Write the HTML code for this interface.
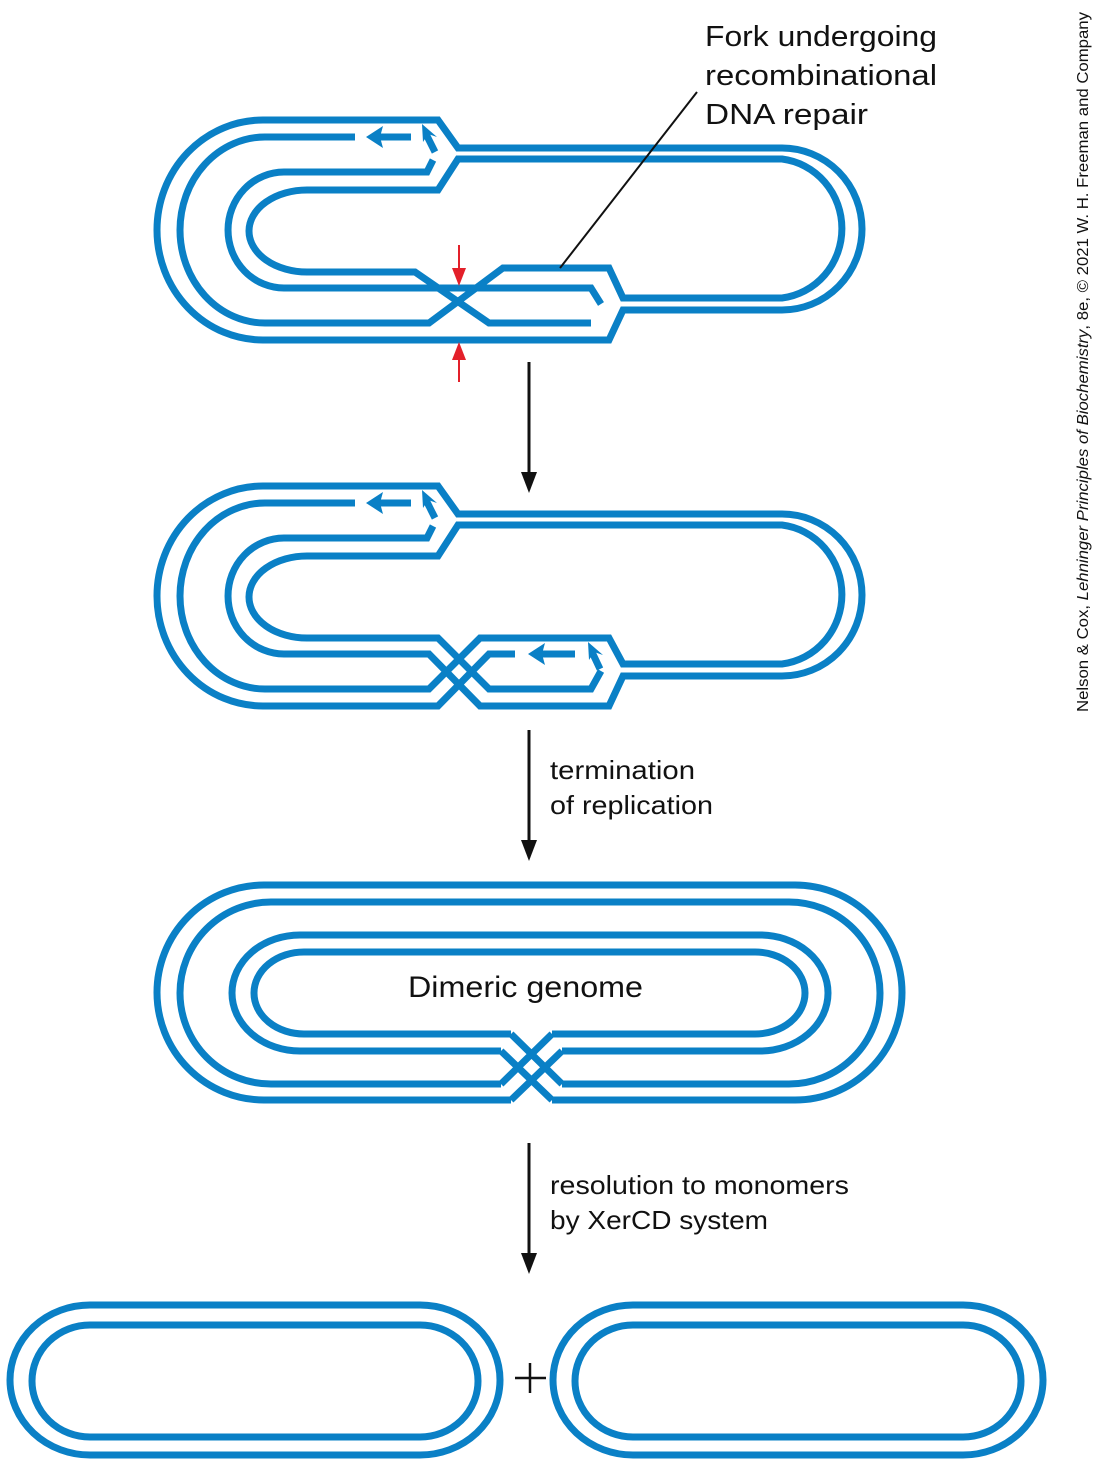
<!DOCTYPE html>
<html><head><meta charset="utf-8"><style>
html,body{margin:0;padding:0;background:#fff;}
svg{display:block;}
text{font-family:"Liberation Sans",sans-serif;fill:#111;}
.s{fill:none;stroke:#0a80c6;stroke-width:7;stroke-linejoin:miter;}
.b{fill:#0a80c6;}
</style></head><body>
<svg width="1094" height="1469" viewBox="0 0 1094 1469">
<g>
<path class="s" d="M263,120 L438,120 L458,148 L782,148 A80,81 0 0 1 782,310 L623,310 L609,340 L263,340 A106,110 0 0 1 263,120 Z"/>
<path class="s" d="M355,137 L265,137 A85,93 0 0 0 265,323 L429,323 L503,268 L609,268 L623,298 L782,298 A68,70 0 0 0 782,159 L458,159 L438,190 L307,190 A58,41 0 0 0 307,272 L415,272 L489,323 L591,323"/>
<path class="s" d="M433,160 L427,172 L284,172 A56,58 0 0 0 284,288 L591,288 L601,304"/>
<line class="s" x1="411" y1="137" x2="378" y2="137"/>
<polygon class="b" points="366,137 383,126 380,137 383,148"/>
<line class="s" x1="435" y1="152" x2="426" y2="134"/>
<polygon class="b" points="422,124 437,137 428,134 423,142"/>
<line x1="459" y1="245" x2="459" y2="270" stroke="#e3202a" stroke-width="2"/>
<polygon points="452,268 466,268 459,286" fill="#e3202a"/>
<line x1="459" y1="382" x2="459" y2="358" stroke="#e3202a" stroke-width="2"/>
<polygon points="452,360 466,360 459,342" fill="#e3202a"/>
<line x1="560" y1="268" x2="697" y2="92" stroke="#111" stroke-width="2"/>
</g>
<text x="705" y="46" font-size="29" textLength="232" lengthAdjust="spacingAndGlyphs">Fork undergoing</text>
<text x="705" y="85" font-size="29" textLength="232" lengthAdjust="spacingAndGlyphs">recombinational</text>
<text x="705" y="124" font-size="29" textLength="163" lengthAdjust="spacingAndGlyphs">DNA repair</text>
<g>
<line x1="529" y1="362" x2="529" y2="478" stroke="#111" stroke-width="3"/>
<polygon points="521,472 537,472 529,493" fill="#111"/>
</g>
<g transform="translate(0,366)">
<path class="s" d="M515,288 L489,288 L438,340 L263,340 A106,110 0 0 1 263,120 L438,120 L458,148 L782,148 A80,81 0 0 1 782,310 L623,310 L609,340 L480,340 L429,288 L284,288 A56,58 0 0 1 284,172 L427,172 L433,160"/>
<path class="s" d="M355,137 L265,137 A85,93 0 0 0 265,323 L429,323 L480,272 L609,272 L623,298 L782,298 A68,70 0 0 0 782,159 L458,159 L438,190 L307,190 A58,41 0 0 0 307,272 L438,272 L489,323 L591,323 L601,305"/>
<line class="s" x1="411" y1="137" x2="378" y2="137"/>
<polygon class="b" points="366,137 383,126 380,137 383,148"/>
<line class="s" x1="435" y1="152" x2="426" y2="134"/>
<polygon class="b" points="422,124 437,137 428,134 423,142"/>
<line class="s" x1="575" y1="288" x2="540" y2="288"/>
<polygon class="b" points="528,288 545,277 542,288 545,299"/>
<line class="s" x1="600" y1="303" x2="592" y2="286"/>
<polygon class="b" points="588,276 603,289 594,286 589,294"/>
</g>
<g>
<line x1="529" y1="730" x2="529" y2="845" stroke="#111" stroke-width="3"/>
<polygon points="521,840 537,840 529,861" fill="#111"/>
</g>
<text x="550" y="779" font-size="26" textLength="145" lengthAdjust="spacingAndGlyphs">termination</text>
<text x="550" y="814" font-size="26" textLength="163" lengthAdjust="spacingAndGlyphs">of replication</text>
<g>
<path class="s" d="M511,1100 L264,1100 A107,107.5 0 0 1 264,885 L795,885 A107,107.5 0 0 1 795,1100 L552,1100"/>
<path class="s" d="M501,1084 L271,1084 A91,91 0 0 1 271,902 L789,902 A91,91 0 0 1 789,1084 L562,1084"/>
<path class="s" d="M501,1051 L300,1051 A68,58 0 0 1 300,935 L760,935 A68,58 0 0 1 760,1051 L562,1051"/>
<path class="s" d="M511,1034 L304,1034 A50,41 0 0 1 304,952 L755,952 A50,41 0 0 1 755,1034 L552,1034"/>
<path class="s" d="M511,1034 L562,1084 M501,1051 L552,1100 M501,1084 L552,1034 M511,1100 L562,1051"/>
</g>
<text x="408" y="997" font-size="30" textLength="235" lengthAdjust="spacingAndGlyphs">Dimeric genome</text>
<g>
<line x1="529" y1="1143" x2="529" y2="1258" stroke="#111" stroke-width="3"/>
<polygon points="521,1253 537,1253 529,1274" fill="#111"/>
</g>
<text x="550" y="1194" font-size="26" textLength="299" lengthAdjust="spacingAndGlyphs">resolution to monomers</text>
<text x="550" y="1229" font-size="26" textLength="218" lengthAdjust="spacingAndGlyphs">by XerCD system</text>
<g>
<path class="s" d="M90,1305 L420,1305 A80,75 0 0 1 420,1455 L90,1455 A80,75 0 0 1 90,1305 Z"/>
<path class="s" d="M90,1325 L420,1325 A58,56 0 0 1 420,1437 L90,1437 A58,56 0 0 1 90,1325 Z"/>
</g>
<g transform="translate(543,0)">
<path class="s" d="M90,1305 L420,1305 A80,75 0 0 1 420,1455 L90,1455 A80,75 0 0 1 90,1305 Z"/>
<path class="s" d="M90,1325 L420,1325 A58,56 0 0 1 420,1437 L90,1437 A58,56 0 0 1 90,1325 Z"/>
</g>
<g>
<line x1="515" y1="1378" x2="546" y2="1378" stroke="#111" stroke-width="2.5"/>
<line x1="530" y1="1363" x2="530" y2="1393" stroke="#111" stroke-width="2.5"/>
</g>
<text transform="translate(1088,712) rotate(-90)" font-size="16" textLength="700" lengthAdjust="spacingAndGlyphs">Nelson &amp; Cox, <tspan font-style="italic">Lehninger Principles of Biochemistry</tspan>, 8e, © 2021 W. H. Freeman and Company</text>
</svg>
</body></html>
